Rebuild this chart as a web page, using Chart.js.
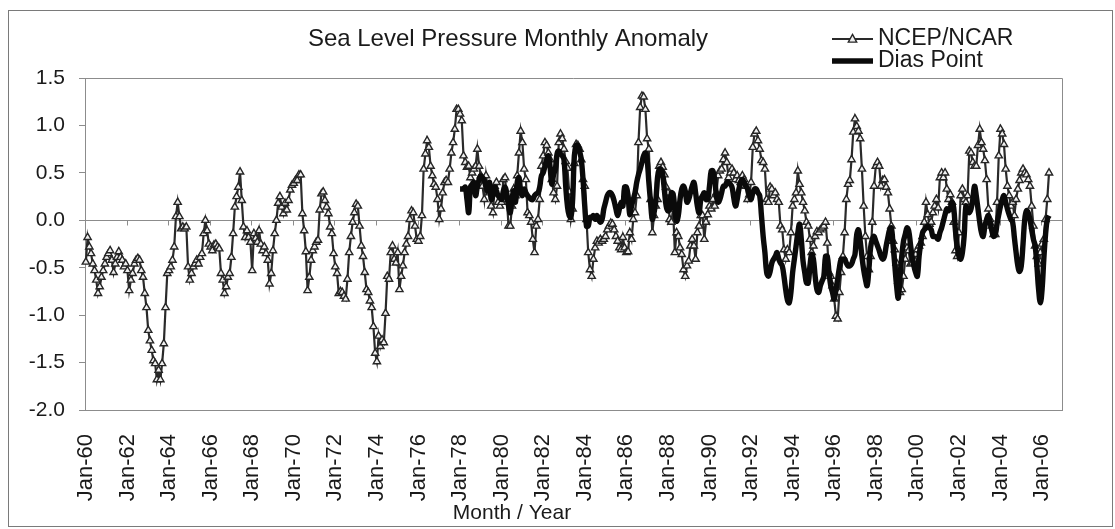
<!DOCTYPE html>
<html>
<head>
<meta charset="utf-8">
<title>Sea Level Pressure Monthly Anomaly</title>
<script src="https://cdn.jsdelivr.net/npm/chart.js@4.4.1/dist/chart.umd.min.js"></script>
<style>
  html, body { margin: 0; padding: 0; background: #ffffff; }
  canvas { display: block; }
</style>
</head>
<body>
<canvas id="c" width="1115" height="529"></canvas>
<script>
// Monthly categories, Jan-60 .. Dec-06
const MONTHS = ['Jan','Feb','Mar','Apr','May','Jun','Jul','Aug','Sep','Oct','Nov','Dec'];
const FIRST_YEAR = 1960;
const LAST_YEAR = 2006;
const labels = [];
for (let y = FIRST_YEAR; y <= LAST_YEAR; y++) {
  for (const m of MONTHS) labels.push(m + '-' + String(y % 100).padStart(2, '0'));
}

// NCEP/NCAR reanalysis anomaly (hPa), one value per month from Jan-60
const ncep = [
  -0.44,-0.18,-0.28,-0.35,-0.46,-0.53,-0.63,-0.77,-0.70,-0.60,-0.53,-0.46,
  -0.39,-0.35,-0.32,-0.42,-0.55,-0.46,-0.39,-0.33,-0.39,-0.42,-0.49,-0.46,
  -0.53,-0.74,-0.63,-0.56,-0.46,-0.42,-0.40,-0.42,-0.53,-0.60,-0.77,-0.92,
  -1.16,-1.27,-1.37,-1.48,-1.51,-1.68,-1.58,-1.68,-1.51,-1.30,-0.92,-0.56,
  -0.53,-0.49,-0.42,-0.28,0.04,0.19,0.04,-0.09,-0.07,-0.09,-0.07,-0.49,
  -0.63,-0.56,-0.49,-0.46,-0.42,-0.46,-0.39,-0.35,-0.14,0.00,-0.11,-0.25,
  -0.28,-0.32,-0.26,-0.25,-0.28,-0.30,-0.56,-0.63,-0.77,-0.70,-0.60,-0.56,
  -0.39,-0.14,0.14,0.25,0.35,0.51,0.21,-0.07,-0.18,-0.11,-0.18,-0.23,
  -0.53,-0.14,-0.19,-0.23,-0.11,-0.25,-0.32,-0.28,-0.35,-0.42,-0.67,-0.56,
  -0.32,-0.14,0.00,0.18,0.25,0.14,0.07,0.18,0.11,0.21,0.32,0.37,
  0.39,0.42,0.42,0.48,0.48,0.07,-0.11,-0.33,-0.74,-0.60,-0.42,-0.32,
  -0.28,-0.23,-0.21,0.11,0.28,0.30,0.21,0.14,0.07,-0.07,-0.14,-0.35,
  -0.49,-0.56,-0.77,-0.75,-0.76,-0.80,-0.83,-0.62,-0.34,-0.17,-0.02,0.08,
  0.17,0.15,-0.06,-0.27,-0.38,-0.55,-0.73,-0.76,-0.85,-0.92,-1.12,-1.40,
  -1.49,-1.22,-1.33,-1.26,-1.29,-0.98,-0.59,-0.62,-0.34,-0.27,-0.41,-0.45,
  -0.34,-0.73,-0.59,-0.48,-0.34,-0.25,-0.17,0.01,0.10,0.08,-0.06,-0.20,
  -0.22,-0.17,0.05,0.54,0.70,0.84,0.77,0.57,0.47,0.38,0.35,0.22,
  0.01,0.12,0.29,0.40,0.42,0.40,0.54,0.71,0.82,0.96,1.17,1.17,
  1.12,1.05,0.68,0.61,0.56,0.57,0.45,0.50,0.54,0.57,0.75,0.57,
  0.47,0.36,0.22,0.47,0.33,0.29,0.15,0.08,0.36,0.40,0.19,0.15,
  0.19,0.43,0.45,0.22,-0.06,-0.06,0.15,0.33,0.26,0.47,0.71,0.94,
  0.82,0.54,0.43,0.08,0.05,-0.02,-0.20,-0.34,-0.06,0.01,0.22,0.57,
  0.68,0.82,0.79,0.71,0.64,0.43,0.29,0.22,0.36,0.82,0.91,0.86,
  0.75,0.62,0.55,0.30,0.01,0.12,0.60,0.80,0.79,0.75,0.64,0.43,
  0.36,0.01,-0.34,-0.52,-0.59,-0.41,-0.29,-0.22,-0.24,-0.20,-0.22,-0.20,
  -0.17,-0.10,-0.06,-0.03,-0.04,-0.10,-0.17,-0.22,-0.29,-0.31,-0.18,-0.29,
  -0.34,-0.33,-0.13,-0.20,0.01,0.08,0.26,0.82,1.19,1.31,1.30,1.17,
  0.86,0.75,0.22,-0.13,0.05,0.15,0.22,0.57,0.61,0.56,0.48,0.35,
  0.29,0.01,-0.02,0.12,-0.34,-0.13,-0.17,-0.29,-0.36,-0.52,-0.59,-0.48,
  -0.43,-0.27,-0.20,-0.27,-0.41,-0.13,-0.06,0.05,0.05,-0.20,-0.02,0.06,
  0.15,0.12,0.22,0.15,0.29,0.47,0.52,0.54,0.64,0.71,0.61,0.45,
  0.50,0.54,0.50,0.43,0.47,0.42,0.40,0.47,0.43,0.36,0.22,0.27,
  0.40,0.77,0.91,0.94,0.84,0.75,0.63,0.61,0.54,0.22,0.19,0.35,
  0.33,0.26,0.29,0.22,0.19,-0.06,-0.10,-0.31,-0.41,-0.31,-0.34,-0.13,
  0.15,0.22,0.29,0.52,0.38,0.29,0.19,0.10,-0.02,-0.06,-0.20,-0.34,
  -0.27,-0.17,-0.12,-0.13,-0.10,-0.08,-0.06,-0.02,-0.24,-0.55,-0.59,-0.69,
  -0.83,-1.01,-1.04,-0.76,-0.55,-0.38,-0.13,0.22,0.38,0.42,0.64,0.93,
  1.07,0.99,0.94,0.86,0.54,0.15,-0.17,-0.38,-0.52,-0.38,-0.02,0.36,
  0.57,0.61,0.57,0.36,0.42,0.43,0.35,0.29,0.12,-0.06,-0.22,-0.31,
  -0.45,-0.64,-0.76,-0.73,-0.59,-0.41,-0.29,-0.32,-0.46,-0.45,-0.41,-0.36,
  -0.31,-0.27,-0.24,-0.17,-0.02,0.19,0.06,-0.04,-0.02,0.08,0.15,0.22,
  0.13,0.45,0.50,0.45,0.50,0.33,0.22,0.27,0.19,-0.02,-0.32,-0.38,
  -0.13,0.26,0.33,0.22,0.19,0.26,0.73,0.71,0.61,0.57,0.57,0.79,
  0.96,0.82,0.75,0.63,0.43,0.12,0.01,-0.06,-0.15,-0.15,0.19,0.68,
  0.96,0.91,0.80,0.54,0.36,0.26,0.15,0.19,0.05,0.22,0.33,0.42,
  0.50,0.54,0.50,0.48,0.43,0.36,0.15,-0.06,-0.27,-0.38,-0.46,-0.34,
  -0.25,-0.20,0.01,0.22,0.50
];

// Dias Point station anomaly (hPa), one value per month from Jan-78
const DIAS_START = 'Jan-78';
const dias = [
  0.33,0.33,0.33,0.35,0.22,0.08,0.35,0.38,0.40,0.26,0.36,0.43,
  0.47,0.45,0.42,0.35,0.31,0.40,0.22,0.26,0.35,0.31,0.26,0.24,
  0.22,0.31,0.35,0.28,0.15,0.08,0.22,0.31,0.19,0.40,0.45,0.31,
  0.26,0.33,0.29,0.26,0.24,0.22,0.22,0.26,0.28,0.29,0.35,0.47,
  0.50,0.57,0.64,0.68,0.56,0.38,0.48,0.54,0.70,0.73,0.70,0.68,
  0.64,0.36,0.15,0.05,0.03,0.22,0.68,0.79,0.79,0.73,0.64,0.43,
  0.15,-0.06,-0.06,0.03,0.03,0.05,0.01,0.05,0.01,-0.02,0.01,0.12,
  0.19,0.26,0.29,0.29,0.26,0.20,0.12,0.05,0.12,0.19,0.15,0.35,
  0.35,0.26,0.06,0.15,0.22,0.29,0.40,0.48,0.54,0.61,0.68,0.71,
  0.64,0.40,0.19,0.01,0.08,0.20,0.45,0.54,0.54,0.48,0.31,0.15,
  0.10,0.12,0.29,0.28,0.12,-0.01,0.05,0.22,0.33,0.36,0.31,0.19,
  0.22,0.29,0.36,0.40,0.29,0.15,0.08,0.22,0.26,0.29,0.22,0.22,
  0.36,0.52,0.52,0.43,0.26,0.19,0.22,0.29,0.36,0.36,0.40,0.40,
  0.38,0.35,0.24,0.15,0.22,0.33,0.40,0.43,0.40,0.36,0.33,0.26,
  0.22,0.29,0.33,0.33,0.29,0.26,0.05,-0.17,-0.34,-0.55,-0.59,-0.54,
  -0.45,-0.41,-0.38,-0.34,-0.41,-0.45,-0.48,-0.59,-0.73,-0.84,-0.87,-0.76,
  -0.55,-0.41,-0.27,-0.13,-0.04,-0.20,-0.43,-0.55,-0.66,-0.66,-0.48,-0.36,
  -0.41,-0.59,-0.73,-0.76,-0.69,-0.64,-0.59,-0.38,-0.38,-0.55,-0.69,-0.76,
  -0.83,-0.73,-0.62,-0.50,-0.41,-0.41,-0.41,-0.45,-0.48,-0.48,-0.46,-0.41,
  -0.36,-0.15,-0.10,-0.22,-0.38,-0.52,-0.62,-0.69,-0.52,-0.29,-0.20,-0.17,
  -0.22,-0.27,-0.32,-0.38,-0.41,-0.38,-0.27,-0.18,-0.10,-0.08,-0.27,-0.48,
  -0.69,-0.82,-0.59,-0.38,-0.22,-0.15,-0.08,-0.11,-0.25,-0.39,-0.48,-0.55,
  -0.59,-0.38,-0.24,-0.13,-0.10,-0.08,-0.06,-0.08,-0.10,-0.17,-0.17,-0.18,
  -0.20,-0.13,-0.08,-0.01,0.06,0.12,0.10,0.13,0.19,0.13,-0.11,-0.27,
  -0.38,-0.41,-0.34,-0.17,0.15,0.12,0.08,0.12,0.22,0.36,0.26,0.12,
  -0.02,-0.13,-0.17,-0.06,0.01,0.05,-0.02,-0.11,-0.17,-0.15,-0.04,0.06,
  0.15,0.22,0.26,0.19,0.12,0.06,0.01,-0.02,-0.18,-0.34,-0.48,-0.54,
  -0.48,-0.25,0.01,0.10,0.08,0.01,-0.10,-0.20,-0.27,-0.48,-0.73,-0.87,
  -0.73,-0.41,-0.15,0.01,0.05
];

// Y axis range and step
const Y_MIN = -2.0, Y_MAX = 1.5, Y_STEP = 0.5;
const LABEL_EVERY = 24; // a tick label every two years

const diasOffset = labels.indexOf(DIAS_START);
const diasSeries = labels.map((_, i) => (i >= diasOffset && i - diasOffset < dias.length) ? dias[i - diasOffset] : null);

const FONT = "'Liberation Sans', Arial, Helvetica, sans-serif";
const TEXT = '#1a1a1a';
const AXIS = '#8c8c8c';

// Frame, zero axis, title, legend and axis caption
const decor = {
  id: 'decor',
  beforeDraw(chart) {
    const c = chart.ctx;
    c.save();
    c.fillStyle = '#ffffff';
    c.fillRect(0, 0, chart.width, chart.height);
    c.restore();
  },
  beforeDatasetsDraw(chart) {
    const c = chart.ctx, a = chart.chartArea;
    const xs = chart.scales.x, ys = chart.scales.y;
    const y0 = Math.round(ys.getPixelForValue(0)) + 0.5;
    c.save();
    c.strokeStyle = AXIS;
    c.lineWidth = 1;
    c.beginPath();
    c.moveTo(a.left, y0);
    c.lineTo(a.right, y0);
    const half = (xs.getPixelForValue(1) - xs.getPixelForValue(0)) / 2;
    for (let i = LABEL_EVERY; i < labels.length; i += LABEL_EVERY) {
      const x = Math.round(xs.getPixelForValue(i) - half) + 0.5;
      c.moveTo(x, y0);
      c.lineTo(x, y0 + 5);
    }
    c.stroke();
    c.restore();
  },
  afterDraw(chart) {
    const c = chart.ctx, a = chart.chartArea;
    c.save();
    // plot area box (top and right sides)
    c.strokeStyle = AXIS;
    c.lineWidth = 1;
    c.beginPath();
    c.moveTo(a.left, a.top + 0.5);
    c.lineTo(a.right + 0.5, a.top + 0.5);
    c.lineTo(a.right + 0.5, a.bottom);
    c.stroke();
    // outer frame
    c.strokeStyle = '#7a7a7a';
    c.strokeRect(8.5, 10.5, chart.width - 11, chart.height - 13);

    // title
    c.fillStyle = TEXT;
    c.textBaseline = 'middle';
    c.textAlign = 'center';
    c.font = '24px ' + FONT;
    c.fillText('Sea Level Pressure Monthly Anomaly', 508, 39);

    // x axis caption
    c.font = '21px ' + FONT;
    c.fillText('Month / Year', 512, 513);

    // legend
    const ds = chart.data.datasets;
    const lx = 832, lw = 41;
    const rows = [39, 61];
    c.textAlign = 'left';
    c.font = '23px ' + FONT;
    ds.forEach((d, k) => {
      const y = rows[k];
      c.strokeStyle = d.borderColor;
      c.lineWidth = d.borderWidth;
      c.beginPath();
      c.moveTo(lx, y);
      c.lineTo(lx + lw, y);
      c.stroke();
      if (d.pointRadius > 0) {
        const r = d.pointRadius, cx = lx + lw / 2;
        c.beginPath();
        c.moveTo(cx, y - r * 1.1);
        c.lineTo(cx + r, y + r * 0.75);
        c.lineTo(cx - r, y + r * 0.75);
        c.closePath();
        c.fillStyle = d.pointBackgroundColor;
        c.fill();
        c.lineWidth = d.pointBorderWidth;
        c.strokeStyle = d.pointBorderColor;
        c.stroke();
      }
      c.fillStyle = TEXT;
      c.fillText(d.label, lx + lw + 5, y);
    });
    c.restore();
  }
};

new Chart(document.getElementById('c'), {
  type: 'line',
  data: {
    labels: labels,
    datasets: [
      {
        label: 'NCEP/NCAR',
        data: ncep,
        borderColor: '#2a2a2a',
        borderWidth: 2.2,
        pointStyle: 'triangle',
        pointRadius: 4.2,
        pointBorderWidth: 1.4,
        pointBackgroundColor: '#efefef',
        pointBorderColor: '#262626',
        tension: 0,
        order: 1
      },
      {
        label: 'Dias Point',
        data: diasSeries,
        borderColor: '#0a0a0a',
        borderWidth: 5.4,
        pointRadius: 0,
        tension: 0.4,
        spanGaps: false,
        order: 0
      }
    ]
  },
  options: {
    responsive: false,
    animation: false,
    devicePixelRatio: 1,
    layout: { padding: { top: 78, right: 53, bottom: 0, left: 0 } },
    plugins: {
      legend: { display: false },
      tooltip: { enabled: false },
      title: { display: false }
    },
    scales: {
      x: {
        type: 'category',
        offset: true,
        grid: { display: false },
        border: { display: true, color: AXIS, width: 1 },
        ticks: {
          autoSkip: false,
          minRotation: 90,
          maxRotation: 90,
          padding: 16,
          color: TEXT,
          font: { family: FONT, size: 22 },
          callback: function (v, i) {
            return i % LABEL_EVERY === 0 ? this.getLabelForValue(v) : null;
          }
        },
        afterFit(s) { s.height = 119; }
      },
      y: {
        min: Y_MIN,
        max: Y_MAX,
        grid: { drawOnChartArea: false, tickLength: 6, color: AXIS },
        border: { display: true, color: AXIS, width: 1 },
        ticks: {
          stepSize: Y_STEP,
          padding: 14,
          color: TEXT,
          font: { family: FONT, size: 21 },
          callback: v => v.toFixed(1)
        },
        afterFit(s) { s.width = 85; }
      }
    }
  },
  plugins: [decor]
});
</script>
</body>
</html>
